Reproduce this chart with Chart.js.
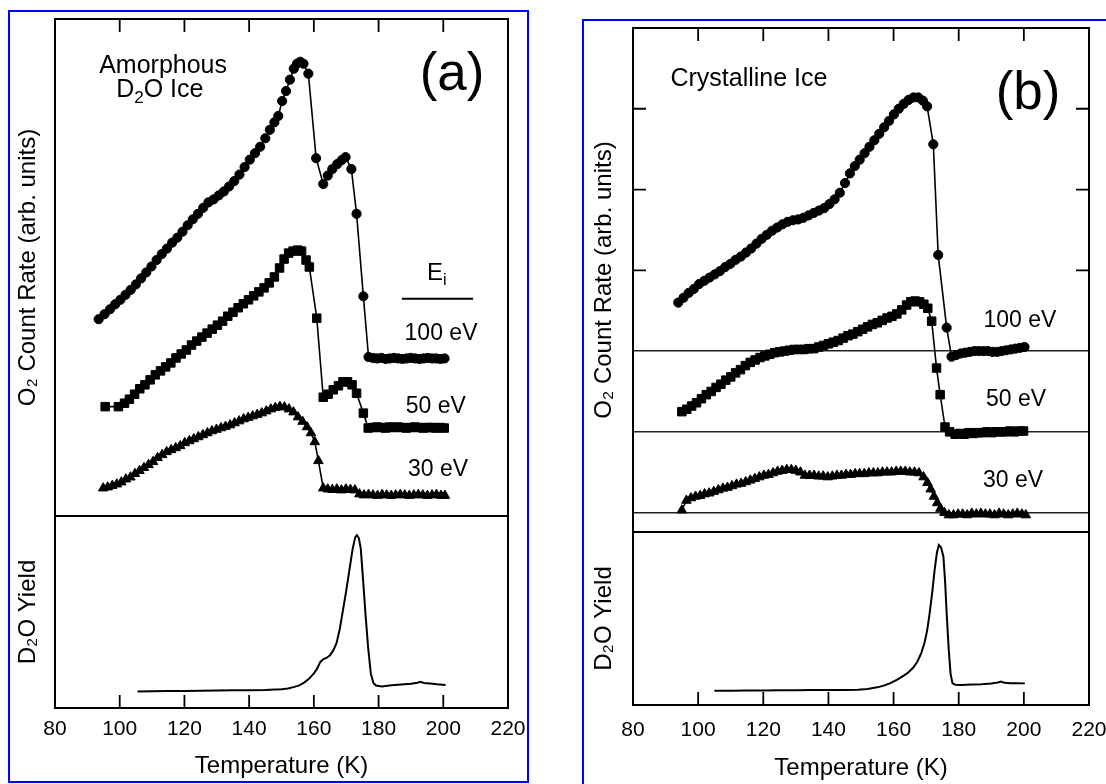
<!DOCTYPE html>
<html>
<head>
<meta charset="utf-8">
<script src="https://cdn.jsdelivr.net/npm/chart.js@4.4.1/dist/chart.umd.min.js"></script>
<style>
  html, body { margin: 0; padding: 0; background: #fff; }
  body { width: 1106px; height: 784px; position: relative; overflow: hidden; }
  canvas { position: absolute; }
  .frame { position: absolute; border: 2px solid #0000ff; box-sizing: border-box; pointer-events: none; }
</style>
</head>
<body>
<canvas id="aTop" width="530" height="520" style="left:0px;top:0px"></canvas>
<canvas id="aBot" width="530" height="284" style="left:0px;top:500px"></canvas>
<canvas id="bTop" width="546" height="540" style="left:560px;top:0px"></canvas>
<canvas id="bBot" width="546" height="268" style="left:560px;top:516px"></canvas>
<div class="frame" style="left:8px;top:10px;width:521px;height:773px"></div>
<div class="frame" style="left:582px;top:19px;width:600px;height:800px"></div>
<script>
// temperature axis
const tempTicks = [80, 100, 120, 140, 160, 180, 200, 220];
const energyLabels = ['100 eV', '50 eV', '30 eV'];

// (a) amorphous D2O ice, [T (K), O2 count rate (arb.)]
const a100 = [[93.5,3.96],[95.3,4.06],[97.0,4.16],[98.6,4.26],[100.2,4.35],[101.8,4.45],[103.4,4.55],[105.0,4.66],[106.6,4.78],[108.2,4.90],[109.8,5.02],[111.4,5.15],[113.0,5.27],[114.6,5.38],[116.2,5.50],[117.8,5.60],[119.4,5.72],[121.0,5.85],[122.6,5.97],[124.2,6.08],[125.8,6.20],[127.4,6.31],[129.0,6.37],[130.6,6.45],[132.2,6.53],[133.8,6.63],[135.4,6.74],[137.0,6.87],[138.6,7.02],[140.2,7.17],[141.8,7.30],[143.4,7.43],[145.0,7.60],[146.4,7.77],[147.8,7.92],[149.0,8.05],[150.2,8.35],[151.4,8.55],[152.6,8.78],[153.8,9.00],[154.8,9.10],[155.8,9.14],[156.8,9.10],[158.3,8.90],[160.7,7.20],[162.9,6.68],[164.3,6.85],[165.7,6.98],[167.2,7.08],[168.6,7.16],[169.8,7.22],[171.6,6.98],[173.2,6.08],[175.3,4.42],[176.9,3.20],[178.3,3.18],[179.6,3.17],[180.9,3.18],[182.2,3.16],[183.5,3.17],[184.8,3.18],[186.1,3.17],[187.4,3.16],[188.7,3.17],[190.0,3.18],[191.3,3.17],[192.6,3.16],[193.9,3.17],[195.2,3.18],[196.5,3.17],[197.8,3.17],[199.1,3.16],[200.4,3.17]];
const a50 = [[95.5,2.20],[99.6,2.20],[101.5,2.27],[103.0,2.35],[104.6,2.45],[106.2,2.56],[107.8,2.64],[109.4,2.74],[111.0,2.84],[112.6,2.92],[114.2,3.00],[115.8,3.08],[117.4,3.18],[119.0,3.26],[120.6,3.34],[122.2,3.44],[123.8,3.52],[125.4,3.60],[127.0,3.68],[128.6,3.76],[130.2,3.84],[131.8,3.92],[133.4,4.02],[135.0,4.10],[136.6,4.19],[138.2,4.27],[139.8,4.35],[141.4,4.43],[143.0,4.51],[144.6,4.59],[146.2,4.69],[147.8,4.81],[149.4,4.99],[150.8,5.17],[152.2,5.29],[153.6,5.33],[155.0,5.35],[156.2,5.33],[157.6,5.15],[158.6,5.01],[160.9,3.98],[162.9,2.39],[164.4,2.45],[166.0,2.54],[167.6,2.62],[169.0,2.70],[170.4,2.70],[171.8,2.64],[173.2,2.47],[175.3,2.07],[176.8,1.77],[178.2,1.78],[179.5,1.79],[180.8,1.78],[182.1,1.77],[183.4,1.79],[184.7,1.78],[186.0,1.79],[187.3,1.78],[188.6,1.77],[189.9,1.78],[191.2,1.79],[192.5,1.78],[193.8,1.77],[195.1,1.78],[196.4,1.78],[197.7,1.77],[199.0,1.78],[200.3,1.77]];
const a30 = [[94.9,0.56],[96.3,0.58],[97.7,0.61],[99.1,0.64],[100.5,0.68],[101.9,0.74],[103.3,0.78],[104.7,0.85],[106.1,0.91],[107.5,0.97],[108.9,1.03],[110.3,1.09],[111.7,1.17],[113.1,1.23],[114.5,1.29],[115.9,1.33],[117.3,1.37],[118.7,1.41],[120.1,1.47],[121.5,1.51],[122.9,1.55],[124.3,1.59],[125.7,1.63],[127.1,1.67],[128.5,1.71],[129.9,1.74],[131.3,1.77],[132.7,1.80],[134.1,1.83],[135.5,1.87],[136.9,1.91],[138.3,1.95],[139.7,1.98],[141.1,2.01],[142.5,2.04],[143.9,2.07],[145.3,2.11],[146.7,2.15],[148.1,2.18],[149.5,2.20],[150.9,2.19],[152.3,2.15],[153.7,2.09],[155.1,1.99],[156.5,1.90],[157.9,1.79],[159.1,1.67],[160.3,1.49],[161.4,1.11],[162.9,0.56],[164.3,0.54],[165.7,0.53],[167.1,0.54],[168.5,0.52],[169.9,0.54],[171.3,0.53],[172.7,0.52],[174.1,0.44],[175.5,0.42],[176.9,0.43],[178.3,0.42],[179.7,0.41],[181.1,0.43],[182.5,0.42],[183.9,0.41],[185.3,0.42],[186.7,0.43],[188.1,0.42],[189.5,0.41],[190.9,0.42],[192.3,0.43],[193.7,0.42],[195.1,0.41],[196.5,0.42],[197.9,0.43],[199.3,0.41],[200.5,0.41]];
const aD2O = [[105.5,0.086],[110,0.087],[115,0.088],[120,0.089],[125,0.090],[130,0.091],[135,0.092],[140,0.093],[145,0.094],[148,0.096],[150,0.098],[152,0.102],[154,0.110],[155.5,0.118],[157,0.132],[158.5,0.152],[160,0.180],[161,0.205],[162,0.240],[163,0.255],[164,0.262],[165,0.275],[166,0.300],[167,0.338],[168,0.410],[169,0.510],[170,0.610],[171,0.720],[172,0.830],[172.8,0.890],[173.3,0.900],[173.9,0.885],[174.5,0.830],[175.2,0.670],[176,0.480],[176.8,0.310],[177.6,0.180],[178.4,0.130],[179.2,0.117],[181,0.112],[184,0.118],[187,0.122],[190,0.126],[192,0.132],[193,0.136],[194,0.130],[196,0.128],[198,0.124],[200.7,0.120]];

// (b) crystalline ice
const b100 = [[93.9,2.60],[95.5,2.66],[97.1,2.72],[98.7,2.77],[100.3,2.83],[101.9,2.87],[103.5,2.91],[105.1,2.95],[106.7,2.99],[108.3,3.04],[109.9,3.08],[111.5,3.13],[113.1,3.17],[114.7,3.22],[116.3,3.27],[117.9,3.33],[119.5,3.39],[121.1,3.44],[122.7,3.49],[124.3,3.53],[125.9,3.57],[127.5,3.60],[129.1,3.62],[130.7,3.63],[132.3,3.65],[133.9,3.68],[135.5,3.71],[137.1,3.74],[138.7,3.77],[140.3,3.82],[141.9,3.88],[143.5,3.96],[145.1,4.08],[146.6,4.20],[148.1,4.29],[149.6,4.37],[151.1,4.45],[152.6,4.53],[154.1,4.61],[155.6,4.69],[157.1,4.77],[158.6,4.85],[160.1,4.93],[161.6,5.00],[163.1,5.06],[164.6,5.11],[166.1,5.14],[167.6,5.14],[169.0,5.10],[170.3,5.03],[172.2,4.56],[173.7,3.19],[176.3,2.29],[177.8,1.93],[179.2,1.95],[180.6,1.97],[182.0,1.98],[183.4,1.99],[184.8,2.00],[186.2,2.00],[187.6,2.00],[189.0,2.00],[190.4,1.99],[191.8,1.99],[193.2,2.00],[194.6,2.01],[196.0,2.02],[197.4,2.03],[198.8,2.04],[200.2,2.05]];
const b50 = [[95,1.25],[96.5,1.28],[98,1.32],[99.5,1.36],[101,1.41],[102.5,1.46],[104,1.50],[105.5,1.55],[107,1.59],[108.5,1.64],[110,1.68],[111.5,1.73],[113,1.77],[114.5,1.82],[116,1.86],[117.5,1.89],[119,1.92],[120.5,1.94],[122,1.96],[123.5,1.98],[125,1.99],[126.5,2.00],[128,2.01],[129.5,2.02],[131,2.02],[132.5,2.02],[134,2.03],[135.5,2.03],[137,2.05],[138.5,2.07],[140,2.09],[141.5,2.11],[143,2.13],[144.5,2.16],[146,2.19],[147.5,2.21],[149,2.24],[150.5,2.27],[152,2.30],[153.5,2.33],[155,2.35],[156.5,2.38],[158,2.41],[159.5,2.43],[161,2.46],[162.5,2.51],[164,2.57],[165.3,2.61],[166.6,2.62],[168,2.61],[169.3,2.58],[170.5,2.53],[171.7,2.37],[173.2,1.79],[174.3,1.46],[175.8,1.06],[177.2,1.00],[178.9,0.97],[180.3,0.98],[181.7,0.97],[183.1,0.99],[184.5,0.98],[185.9,0.99],[187.3,0.99],[188.7,1.00],[190.1,0.99],[191.5,1.00],[192.9,1.00],[194.3,1.00],[195.7,1.01],[197.1,1.00],[198.5,1.01],[199.9,1.01]];
const b30 = [[95,0.03],[96.4,0.15],[97.8,0.18],[99.2,0.20],[100.6,0.21],[102,0.23],[103.4,0.24],[104.8,0.26],[106.2,0.28],[107.6,0.30],[109,0.31],[110.4,0.33],[111.8,0.35],[113.2,0.36],[114.6,0.38],[116,0.40],[117.4,0.42],[118.8,0.44],[120.2,0.46],[121.6,0.47],[123,0.49],[124.4,0.51],[125.8,0.52],[127.2,0.53],[128.6,0.53],[130,0.52],[131.4,0.50],[132.8,0.46],[134.2,0.46],[135.6,0.46],[137,0.45],[138.4,0.45],[139.8,0.44],[141.2,0.45],[142.6,0.46],[144,0.46],[145.4,0.47],[146.8,0.47],[148.2,0.48],[149.6,0.48],[151,0.48],[152.4,0.49],[153.8,0.49],[155.2,0.49],[156.6,0.50],[158,0.50],[159.4,0.50],[160.8,0.51],[162.2,0.51],[163.6,0.51],[165,0.50],[166.4,0.50],[167.8,0.49],[169.2,0.44],[170.4,0.37],[171.4,0.29],[172.4,0.20],[173.4,0.12],[174.4,0.05],[175.6,0.00],[177,-0.03],[178.4,-0.03],[179.8,-0.02],[181.2,-0.02],[182.6,-0.03],[184,-0.01],[185.4,-0.02],[186.8,-0.01],[188.2,-0.02],[189.6,-0.02],[191,-0.03],[192.4,-0.01],[193.8,-0.02],[195.2,-0.03],[196.6,-0.02],[198,-0.01],[199.4,-0.02],[200.6,-0.03]];
const bD2O = [[105,0.083],[110,0.083],[115,0.084],[120,0.084],[125,0.085],[130,0.085],[135,0.086],[140,0.086],[145,0.087],[149,0.088],[152,0.093],[155,0.102],[157,0.112],[159,0.126],[161,0.145],[163,0.168],[164.5,0.188],[166,0.215],[167.3,0.250],[168.5,0.300],[169.5,0.360],[170.3,0.430],[171,0.520],[171.8,0.640],[172.6,0.780],[173.3,0.880],[173.9,0.925],[174.6,0.910],[175.3,0.857],[175.8,0.720],[176.3,0.530],[176.9,0.330],[177.5,0.180],[178.1,0.125],[179,0.117],[181,0.116],[184,0.118],[187,0.120],[190,0.124],[192,0.130],[193,0.135],[194,0.128],[196,0.126],[198,0.126],[200.3,0.125]];

const FONT = "'Liberation Sans', Arial, Helvetica, sans-serif";

function pts(arr) {
  return arr.map(p => ({ x: p[0], y: p[1] }));
}

function markers(arr, style, r) {
  return {
    data: pts(arr),
    pointStyle: style,
    pointRadius: r,
    pointBackgroundColor: '#000',
    pointBorderColor: '#000',
    pointBorderWidth: 1,
    borderColor: '#000',
    borderWidth: 1.6,
    tension: 0
  };
}

function trace(arr) {
  return { data: pts(arr), pointRadius: 0, borderColor: '#000', borderWidth: 2, tension: 0 };
}

// draws text with subscript pieces, e.g. [['D'],['2',1],['O Ice']]
function richText(ctx, parts, cx, cy, size) {
  const big = size + 'px ' + FONT;
  const small = Math.round(size * 0.68) + 'px ' + FONT;
  let w = 0;
  parts.forEach(p => { ctx.font = p[1] ? small : big; w += ctx.measureText(p[0]).width; });
  let x = cx - w / 2;
  ctx.textAlign = 'left';
  ctx.textBaseline = 'middle';
  ctx.fillStyle = '#000';
  parts.forEach(p => {
    ctx.font = p[1] ? small : big;
    ctx.fillText(p[0], x, p[1] ? cy + size * 0.33 : cy);
    x += ctx.measureText(p[0]).width;
  });
}

// frame, inward ticks and text inside the plot
const deco = {
  id: 'deco',
  afterDraw(chart, args, o) {
    const { ctx, chartArea: a, scales: { x, y } } = chart;
    ctx.save();
    ctx.strokeStyle = '#000';
    ctx.lineWidth = 2;
    ctx.strokeRect(a.left, a.top, a.right - a.left, a.bottom - a.top);
    ctx.lineWidth = 1.8;
    const len = 13;
    tempTicks.slice(1, -1).forEach(v => {
      const px = x.getPixelForValue(v);
      ctx.beginPath();
      if (o.topTicks) { ctx.moveTo(px, a.top); ctx.lineTo(px, a.top + len); }
      if (o.bottomTicks) { ctx.moveTo(px, a.bottom); ctx.lineTo(px, a.bottom - len); }
      ctx.stroke();
    });
    (o.yTicks || []).forEach(v => {
      const py = y.getPixelForValue(v);
      ctx.beginPath();
      ctx.moveTo(a.left, py); ctx.lineTo(a.left + len, py);
      ctx.moveTo(a.right, py); ctx.lineTo(a.right - len, py);
      ctx.stroke();
    });
    (o.rules || []).forEach(r => {
      ctx.beginPath();
      ctx.lineWidth = 2;
      ctx.moveTo(x.getPixelForValue(r[0]), y.getPixelForValue(r[2]));
      ctx.lineTo(x.getPixelForValue(r[1]), y.getPixelForValue(r[2]));
      ctx.stroke();
    });
    (o.labels || []).forEach(l => {
      richText(ctx, l.parts, x.getPixelForValue(l.x), y.getPixelForValue(l.y), l.size);
    });
    ctx.restore();
  }
};

function xHidden() {
  return {
    type: 'linear', min: 80, max: 220, display: false,
    afterBuildTicks: s => { s.ticks = tempTicks.map(v => ({ value: v })); }
  };
}

function xShown(height, labelPad, titlePad) {
  return {
    type: 'linear', min: 80, max: 220,
    afterBuildTicks: s => { s.ticks = tempTicks.map(v => ({ value: v })); },
    ticks: { color: '#000', font: { family: FONT, size: 21 }, padding: labelPad, maxRotation: 0, autoSkip: false },
    grid: { display: false, drawTicks: false },
    border: { display: false },
    title: { display: true, text: 'Temperature (K)', color: '#000', font: { family: FONT, size: 24 }, padding: { top: 0, bottom: titlePad } },
    afterFit: s => { s.height = height; s.paddingLeft = 0; s.paddingRight = 0; }
  };
}

function yAxis(min, max, text, width, titlePad) {
  return {
    type: 'linear', min: min, max: max,
    ticks: { display: false },
    grid: { display: false, drawTicks: false },
    border: { display: false },
    title: { display: true, text: text, color: '#000', font: { family: FONT, size: 24 }, padding: { top: titlePad, bottom: 0 } },
    afterFit: s => { s.width = width; s.paddingTop = 0; s.paddingBottom = 0; }
  };
}

function makeChart(id, datasets, scales, padding, decoOpts) {
  return new Chart(document.getElementById(id), {
    type: 'line',
    data: { datasets: datasets },
    options: {
      responsive: false,
      animation: false,
      devicePixelRatio: 1,
      events: [],
      layout: { padding: padding, autoPadding: false },
      plugins: { legend: { display: false }, tooltip: { enabled: false }, deco: decoOpts },
      scales: scales
    },
    plugins: [deco]
  });
}

const rateTitle = 'O\u2082 Count Rate (arb. units)';
const yieldTitle = 'D\u2082O Yield';

// (a) top
makeChart('aTop',
  [markers(a100, 'circle', 4.6), markers(a50, 'rect', 6), markers(a30, 'triangle', 5.5)],
  { x: xHidden(), y: yAxis(0, 10, rateTitle, 55, 14) },
  { top: 19, right: 22, bottom: 4, left: 0 },
  {
    topTicks: true,
    labels: [
      { x: 113.4, y: 9.05, parts: [['Amorphous']], size: 25 },
      { x: 112.4, y: 8.57, parts: [['D'], ['2', 1], ['O Ice']], size: 25 },
      { x: 202.7, y: 8.87, parts: [['(a)']], size: 53 },
      { x: 198.0, y: 4.89, parts: [['E'], ['i', 1]], size: 24 },
      { x: 199.3, y: 3.66, parts: [[energyLabels[0]]], size: 23 },
      { x: 197.7, y: 2.21, parts: [[energyLabels[1]]], size: 23 },
      { x: 198.4, y: 0.93, parts: [[energyLabels[2]]], size: 23 }
    ],
    rules: [[187.2, 209.2, 4.37]]
  });

// (a) bottom
makeChart('aBot',
  [trace(aD2O)],
  { x: xShown(76, 9, 3), y: yAxis(0, 1, yieldTitle, 55, 14) },
  { top: 16, right: 22, bottom: 0, left: 0 },
  { bottomTicks: true });

// (b) top, with baselines for each energy
const bBaselines = [0, 1, 2];
const bTopY = yAxis(-0.24, 6, rateTitle, 73, 30);
bTopY.afterBuildTicks = s => { s.ticks = [0, 1, 2, 3, 4, 5].map(v => ({ value: v })); };
bTopY.grid = {
  display: true, drawTicks: false, lineWidth: 1.5,
  color: c => (c.tick && bBaselines.includes(c.tick.value)) ? '#222' : 'rgba(0,0,0,0)'
};
makeChart('bTop',
  [markers(b100, 'circle', 4.6), markers(b50, 'rect', 6), markers(b30, 'triangle', 5.5)],
  { x: xHidden(), y: bTopY },
  { top: 28, right: 17, bottom: 8, left: 0 },
  {
    topTicks: true,
    yTicks: [3, 4, 5],
    labels: [
      { x: 115.6, y: 5.37, parts: [['Crystalline Ice']], size: 25 },
      { x: 201.3, y: 5.18, parts: [['(b)']], size: 53 },
      { x: 198.8, y: 2.38, parts: [[energyLabels[0]]], size: 23 },
      { x: 197.6, y: 1.40, parts: [[energyLabels[1]]], size: 23 },
      { x: 196.7, y: 0.39, parts: [[energyLabels[2]]], size: 23 }
    ]
  });

// (b) bottom
makeChart('bBot',
  [trace(bD2O)],
  { x: xShown(79, 13, 1), y: yAxis(0, 1, yieldTitle, 73, 30) },
  { top: 16, right: 17, bottom: 0, left: 0 },
  { bottomTicks: true });
</script>
</body>
</html>
